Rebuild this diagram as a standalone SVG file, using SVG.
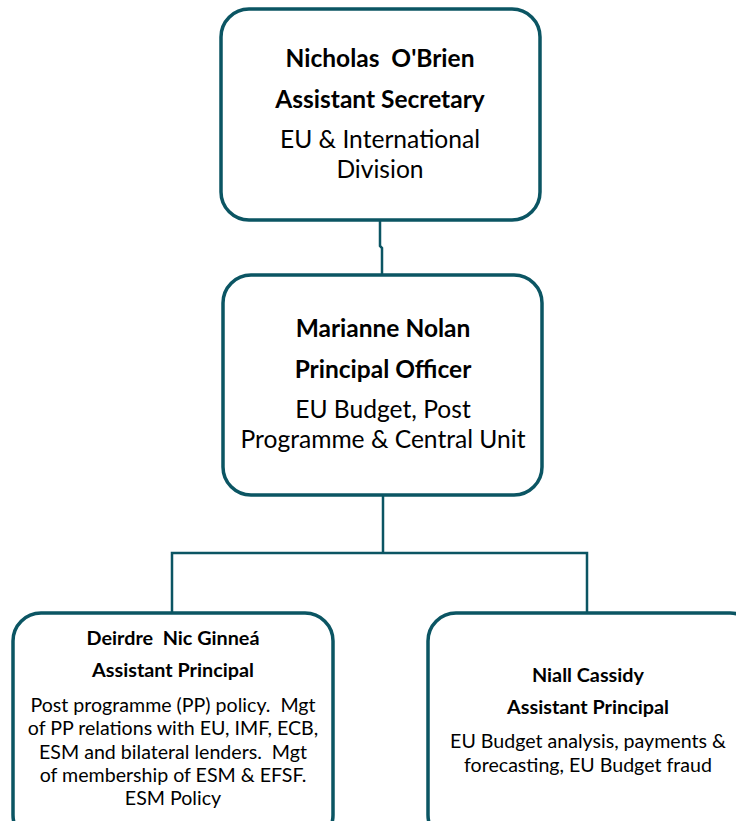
<svg xmlns="http://www.w3.org/2000/svg" width="736" height="821" viewBox="0 0 736 821">
  <style>
    .box { fill: #ffffff; stroke: #0b5563; stroke-width: 3.5; }
    .link { fill: none; stroke: #0b5563; stroke-width: 2.5; }
    text { font-family: "Lato", "Open Sans", "Liberation Sans", sans-serif; fill: #000000; text-anchor: middle; white-space: pre; }
    .b1 { font-size: 24.5px; font-weight: bold; }
    .t1 { font-size: 24.6px; }
    .b2 { font-size: 19.8px; font-weight: bold; }
    .t2 { font-size: 19.6px; }
  </style>
  <rect width="736" height="821" fill="#ffffff"/>

  <!-- reporting lines -->
  <g id="connectors">
    <path class="link" d="M380,220 V246 L382,248 V274"/>
    <path class="link" d="M383,495 V553"/>
    <path class="link" d="M172,613 V553 H587 V613"/>
  </g>

  <g id="node-obrien">
    <rect class="box" x="221" y="9" width="319" height="211" rx="28"/>
    <text class="b1" x="380" y="67" xml:space="preserve">Nicholas  O'Brien</text>
    <text class="b1" x="380" y="108">Assistant Secretary</text>
    <text class="t1" x="380" y="148">EU &amp; International</text>
    <text class="t1" x="380" y="178">Division</text>
  </g>

  <g id="node-nolan">
    <rect class="box" x="223" y="275" width="319" height="220" rx="28"/>
    <text class="b1" x="383" y="337">Marianne Nolan</text>
    <text class="b1" x="383" y="378">Principal Officer</text>
    <text class="t1" x="383" y="418">EU Budget, Post</text>
    <text class="t1" x="383" y="448">Programme &amp; Central Unit</text>
  </g>

  <g id="node-nic-ginnea">
    <rect class="box" x="13" y="613" width="320" height="230" rx="28"/>
    <text class="b2" x="173" y="645" xml:space="preserve">Deirdre  Nic Ginneá</text>
    <text class="b2" x="173" y="677">Assistant Principal</text>
    <text class="t2" x="173" y="712" xml:space="preserve">Post programme (PP) policy.  Mgt</text>
    <text class="t2" x="173" y="735">of PP relations with EU, IMF, ECB,</text>
    <text class="t2" x="173" y="759" xml:space="preserve">ESM and bilateral lenders.  Mgt</text>
    <text class="t2" x="173" y="782">of membership of ESM &amp; EFSF.</text>
    <text class="t2" x="173" y="805">ESM Policy</text>
  </g>

  <g id="node-cassidy">
    <rect class="box" x="428" y="613" width="330" height="230" rx="28"/>
    <text class="b2" x="588" y="682">Niall Cassidy</text>
    <text class="b2" x="588" y="714">Assistant Principal</text>
    <text class="t2" x="588" y="748">EU Budget analysis, payments &amp;</text>
    <text class="t2" x="588" y="772">forecasting, EU Budget fraud</text>
  </g>
</svg>
